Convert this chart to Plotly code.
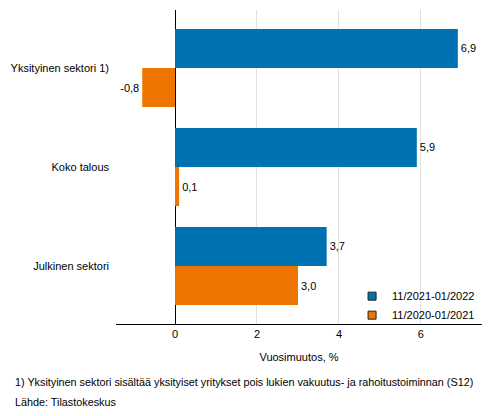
import plotly.graph_objects as go

categories = ["Yksityinen sektori 1)", "Koko talous", "Julkinen sektori"]
series_names = ["11/2021-01/2022", "11/2020-01/2021"]
values_2022 = [6.9, 5.9, 3.7]
values_2021 = [-0.8, 0.1, 3.0]
colors = ["#0072B2", "#EE7600"]
x_ticks = [0, 2, 4, 6]

font = "Liberation Sans, Arial, sans-serif"

fig = go.Figure()
for name, vals, col in zip(series_names, [values_2022, values_2021], colors):
    fig.add_trace(go.Bar(
        y=categories, x=vals, name=name, orientation="h",
        marker=dict(color=col, line=dict(width=0)),
        texttemplate="%{x:.1f}", textposition="outside",
        textfont=dict(size=11, color="#000000"), cliponaxis=False,
        showlegend=False,
    ))
# legend-only entries with small outlined squares
for name, col in zip(series_names, colors):
    fig.add_trace(go.Scatter(
        x=[None], y=[None], mode="markers", name=name,
        marker=dict(symbol="square", size=8, color=col,
                    line=dict(color="#222222", width=1)),
        showlegend=True,
    ))

fig.update_layout(
    width=493, height=416,
    margin=dict(l=116, r=11, t=10, b=92),
    barmode="group", bargap=0.21, bargroupgap=0,
    separators=", ",
    plot_bgcolor="white", paper_bgcolor="white",
    font=dict(family=font, size=11, color="#000000"),
    showlegend=True,
    legend=dict(x=0.645, y=-0.018, xanchor="left", yanchor="bottom",
                bgcolor="rgba(0,0,0,0)", font=dict(size=11),
                tracegroupgap=0, itemwidth=30),
    xaxis=dict(range=[-1.44, 7.49], tickvals=x_ticks, showgrid=True,
               gridcolor="#E0E0E0", zeroline=True, zerolinecolor="#000000",
               zerolinewidth=1, showline=True, linecolor="#000000",
               ticks="", automargin=False,
               title=dict(text="Vuosimuutos, %", standoff=14,
                          font=dict(size=11))),
    yaxis=dict(range=[2.586, -0.586], showgrid=False, ticks="",
               ticklabelstandoff=6, showline=False, automargin=False),
    annotations=[
        dict(text="1) Yksityinen sektori sisältää yksityiset yritykset pois lukien vakuutus- ja rahoitustoiminnan (S12)",
             xref="paper", yref="paper", x=-0.281, y=-0.185,
             xanchor="left", yanchor="middle", showarrow=False,
             font=dict(size=10.8)),
        dict(text="Lähde: Tilastokeskus",
             xref="paper", yref="paper", x=-0.281, y=-0.248,
             xanchor="left", yanchor="middle", showarrow=False,
             font=dict(size=10.8)),
    ],
)

fig.write_html("out.html",
               config={"displayModeBar": False},
               post_script="document.body.style.margin='0';")
